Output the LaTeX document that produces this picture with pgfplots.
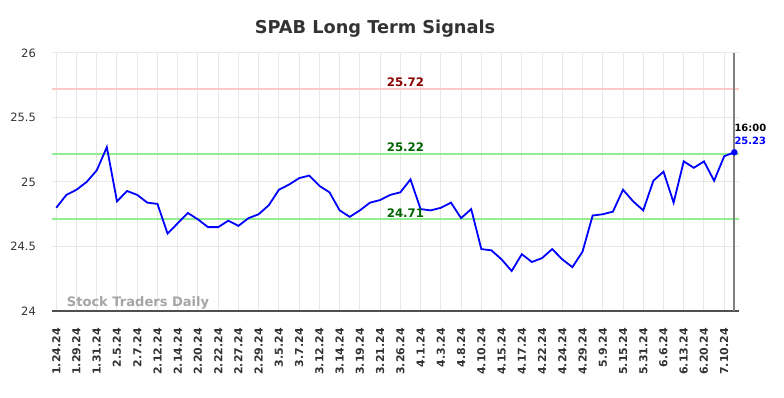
\documentclass[border=0pt]{standalone}
\usepackage{pgfplots}
\pgfplotsset{compat=1.18}
\usepackage{pgfplotstable}
\usepackage{fontspec}
\setmainfont{DejaVu Sans}
\definecolor{txt}{RGB}{51,51,51}
\definecolor{gridc}{RGB}{232,232,232}
\definecolor{pinkl}{RGB}{255,200,200}
\definecolor{greenl}{RGB}{144,238,144}
\definecolor{dred}{RGB}{139,0,0}
\definecolor{dgreen}{RGB}{0,100,0}
\definecolor{wm}{RGB}{165,165,165}
\definecolor{spine}{RGB}{80,80,80}
\definecolor{vline}{RGB}{128,128,128}
\pgfplotstableread{
i v
0 24.80
1 24.90
2 24.94
3 25.00
4 25.09
5 25.27
6 24.85
7 24.93
8 24.90
9 24.84
10 24.83
11 24.60
12 24.68
13 24.76
14 24.71
15 24.65
16 24.65
17 24.70
18 24.66
19 24.72
20 24.75
21 24.82
22 24.94
23 24.98
24 25.03
25 25.05
26 24.97
27 24.92
28 24.78
29 24.73
30 24.78
31 24.84
32 24.86
33 24.90
34 24.92
35 25.02
36 24.79
37 24.78
38 24.80
39 24.84
40 24.72
41 24.79
42 24.48
43 24.47
44 24.40
45 24.31
46 24.44
47 24.38
48 24.41
49 24.48
50 24.40
51 24.34
52 24.46
53 24.74
54 24.75
55 24.77
56 24.94
57 24.85
58 24.78
59 25.01
60 25.08
61 24.84
62 25.16
63 25.11
64 25.16
65 25.01
66 25.20
67 25.23
}\prices
\begin{document}
\begin{tikzpicture}
\path[use as bounding box] (0,0) rectangle (784bp,398bp);
\node[anchor=base, inner sep=0, text=txt, font=\fontsize{17.8}{20}\selectfont\bfseries] at (375bp,364.7bp) {SPAB Long Term Signals};
\begin{axis}[
  at={(52bp,87bp)}, anchor=south west,
  scale only axis, width=687bp, height=258bp,
  xmin=-0.42, xmax=67.46, ymin=24, ymax=26,
  clip=false,
  axis line style={draw=none},
  major tick length=0pt,
  xtick={0,2,...,66},
  xticklabels={1.24.24,1.29.24,1.31.24,2.5.24,2.7.24,2.12.24,2.14.24,2.20.24,2.22.24,2.27.24,2.29.24,3.5.24,3.7.24,3.12.24,3.14.24,3.19.24,3.21.24,3.26.24,4.1.24,4.3.24,4.8.24,4.10.24,4.15.24,4.17.24,4.22.24,4.24.24,4.29.24,5.9.24,5.15.24,5.31.24,6.6.24,6.13.24,6.20.24,7.10.24},
  xticklabel style={rotate=90, anchor=east, inner sep=0pt, xshift=-17bp, text=txt, font=\fontsize{11}{13}\selectfont\bfseries},
  ytick={24,24.5,25,25.5,26},
  yticklabels={24,24.5,25,25.5,26},
  yticklabel style={anchor=east, inner sep=0pt, xshift=-16bp, text=txt, font=\fontsize{11.5}{13}\selectfont},
  xmajorgrids, ymajorgrids,
  major grid style={draw=gridc, line width=1bp},
]
\addplot[draw=pinkl, line width=2bp] coordinates {(-0.42,25.72) (67.46,25.72)};
\addplot[draw=greenl, line width=2bp] coordinates {(-0.42,25.22) (67.46,25.22)};
\addplot[draw=greenl, line width=2bp] coordinates {(-0.42,24.71) (67.46,24.71)};
\addplot[draw=spine, line width=1.3bp] coordinates {(-0.42,24) (67.46,24)};
\addplot[draw=blue, line width=1.8bp, mark=none] table[x=i, y=v] {\prices};
\addplot[draw=vline, line width=2bp] coordinates {(67,24) (67,26)};
\addplot[only marks, mark=*, mark size=3bp, color=blue] coordinates {(67,25.23)};
\node[anchor=base, inner sep=0, text=dred, font=\fontsize{11.8}{13}\selectfont\bfseries, yshift=2.4bp] at (axis cs:34.5,25.72) {25.72};
\node[anchor=base, inner sep=0, text=dgreen, font=\fontsize{11.8}{13}\selectfont\bfseries, yshift=2.4bp] at (axis cs:34.5,25.22) {25.22};
\node[anchor=base, inner sep=0, text=dgreen, font=\fontsize{11.8}{13}\selectfont\bfseries, yshift=2.4bp] at (axis cs:34.5,24.71) {24.71};
\node[anchor=base west, inner sep=0, text=black, font=\fontsize{10}{12}\selectfont\bfseries, yshift=20.5bp] at (axis cs:67,25.23) {16:00};
\node[anchor=base west, inner sep=0, text=blue, font=\fontsize{10}{12}\selectfont\bfseries, yshift=7.5bp] at (axis cs:67,25.23) {25.23};
\end{axis}
\node[anchor=base west, inner sep=0, text=wm, font=\fontsize{13.1}{15}\selectfont\bfseries] at (66.7bp,91bp) {Stock Traders Daily};
\end{tikzpicture}
\end{document}
